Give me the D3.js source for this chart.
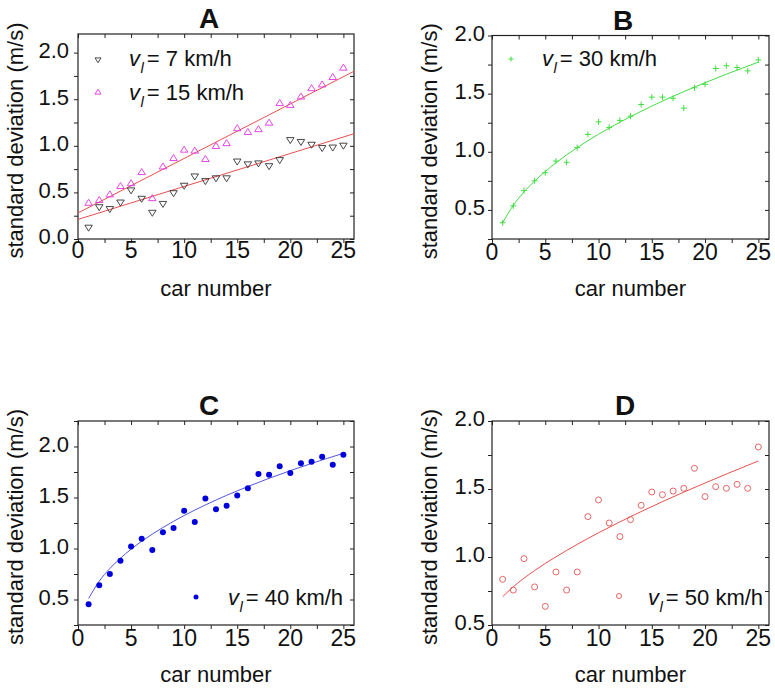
<!DOCTYPE html>
<html><head><meta charset="utf-8">
<script src="https://cdn.jsdelivr.net/npm/d3@7"></script>
<style>
body{margin:0;background:#fff;}
text{font-family:"Liberation Sans",Arial,sans-serif;fill:#111;}
</style>
</head><body>
<svg id="chart" width="775" height="689"></svg>
<script>
// ---------- data ----------
const carNumbers = [1,2,3,4,5,6,7,8,9,10,11,12,13,14,15,16,17,18,19,20,21,22,23,24,25];
const xTickValues = [0,5,10,15,20,25];

// Panel A
const sdA7  = [0.12,0.34,0.32,0.39,0.52,0.43,0.28,0.375,0.49,0.57,0.67,0.62,0.65,0.65,0.83,0.80,0.81,0.78,0.845,1.06,1.04,1.01,0.975,0.98,1.00];
const sdA15 = [0.39,0.42,0.48,0.57,0.60,0.72,0.44,0.78,0.87,0.96,0.95,0.86,1.00,1.03,1.19,1.15,1.18,1.25,1.46,1.44,1.53,1.62,1.66,1.74,1.84];
const fitAX   = [0,26];
const fitA7Y  = [0.21,1.13];
const fitA15Y = [0.28,1.80];
const yTicksA = [0,0.5,1.0,1.5,2.0];

// Panel B
const sdB30 = [0.39,0.535,0.666,0.75,0.82,0.92,0.91,1.036,1.15,1.257,1.21,1.27,1.306,1.406,1.47,1.47,1.46,1.375,1.55,1.58,1.716,1.74,1.725,1.696,1.79];
const fitX  = [1,2,3,4,5,6,8,10,12,14,16,18,20,22,25];
const fitBY = [0.39,0.540,0.654,0.748,0.831,0.905,1.036,1.151,1.254,1.348,1.436,1.517,1.594,1.667,1.771];
const yTicksB = [0.5,1.0,1.5,2.0];

// Panel C
const sdC40 = [0.454,0.64,0.75,0.88,1.02,1.095,0.986,1.16,1.20,1.37,1.26,1.49,1.386,1.42,1.52,1.59,1.73,1.724,1.806,1.74,1.836,1.85,1.90,1.82,1.92];
const fitCY = [0.51,0.679,0.804,0.905,0.993,1.071,1.206,1.323,1.427,1.521,1.607,1.688,1.763,1.834,1.933];
const yTicksC = [0.5,1.0,1.5,2.0];

// Panel D
const sdD50 = [0.836,0.757,0.988,0.78,0.637,0.89,0.757,0.89,1.297,1.42,1.25,1.15,1.275,1.38,1.478,1.458,1.485,1.505,1.652,1.444,1.517,1.505,1.534,1.505,1.809];
const fitDY = [0.708,0.781,0.844,0.900,0.953,1.001,1.093,1.178,1.258,1.334,1.407,1.477,1.544,1.610,1.706];
const yTicksD = [0.5,1.0,1.5,2.0];

const titles = ["A","B","C","D"];
const xLabel = "car number";
const yLabel = "standard deviation (m/s)";

// ---------- drawing ----------
const svg = d3.select("#chart");
const FSX = 23, FSL = 22;
const frameCol = "#222";

function panel(cfg){
  const g = svg.append("g");
  const x = d3.scaleLinear().domain([0,26]).range([cfg.l,cfg.r]);
  const y = d3.scaleLinear().domain(cfg.yDom).range([cfg.b,cfg.t]);
  const xMinor = d3.range(0,26,2.5);
  const yMinor = d3.range(Math.ceil(cfg.yDom[0]/0.25-1e-9)*0.25, cfg.yDom[1]+1e-9, 0.25);

  // frame
  g.append("rect").attr("x",cfg.l).attr("y",cfg.t).attr("width",cfg.r-cfg.l).attr("height",cfg.b-cfg.t)
    .attr("fill","none").attr("stroke",frameCol).attr("stroke-width",1.2);

  const tickStyle = sel => { sel.select(".domain").remove(); sel.selectAll("line").attr("stroke",frameCol).attr("stroke-width",1); sel.selectAll("text").remove(); };
  g.append("g").attr("transform",`translate(0,${cfg.b})`).call(d3.axisBottom(x).tickValues(xMinor).tickSize(4)).call(tickStyle);
  g.append("g").attr("transform",`translate(0,${cfg.t})`).call(d3.axisTop(x).tickValues(xMinor).tickSize(-4)).call(tickStyle);
  g.append("g").attr("transform",`translate(${cfg.l},0)`).call(d3.axisLeft(y).tickValues(yMinor).tickSize(4)).call(tickStyle);
  g.append("g").attr("transform",`translate(${cfg.r},0)`).call(d3.axisRight(y).tickValues(yMinor).tickSize(-4)).call(tickStyle);

  // tick labels
  g.selectAll(".xl").data(xTickValues).enter().append("text")
    .attr("x",d=>x(d)).attr("y",cfg.b+cfg.xlOff).attr("text-anchor","middle").attr("font-size",FSX).text(d=>d);
  g.selectAll(".yl").data(cfg.yTicks).enter().append("text")
    .attr("x",cfg.l-cfg.ylGap).attr("y",d=>y(d)-2.5).attr("dy","0.36em").attr("text-anchor","end").attr("font-size",FSX-1).text(d=>d.toFixed(1));

  // axis titles
  g.append("text").attr("x",(cfg.l+cfg.r)/2).attr("y",cfg.b+cfg.xtOff).attr("text-anchor","middle").attr("font-size",FSL).text(xLabel);
  g.append("text").attr("transform",`translate(${cfg.ytX},${(cfg.t+cfg.b)/2+4}) rotate(-90)`).attr("text-anchor","middle").attr("font-size",FSL).text(yLabel);
  // panel title
  g.append("text").attr("x",cfg.titleX).attr("y",cfg.t-6).attr("text-anchor","middle").attr("font-size",28).attr("font-weight","bold").text(cfg.title);

  const line = d3.line().x(d=>x(d[0])).y(d=>y(d[1]));
  cfg.fits.forEach(f=>{
    g.append("path").datum(d3.zip(f.xs,f.ys)).attr("d",line.curve(f.curve||d3.curveLinear))
      .attr("fill","none").attr("stroke",f.color).attr("stroke-width",1);
  });

  cfg.series.forEach(s=>{
    const pts = d3.zip(carNumbers,s.values);
    drawMarkers(g, pts.map(p=>[x(p[0]),y(p[1])]), s.marker, s.color, s.size);
  });

  // legend
  cfg.legend.forEach(L=>{
    drawMarkers(g, [[L.mx,L.my]], L.marker, L.color, L.size);
    const t = g.append("text").attr("x",L.tx).attr("y",L.ty).attr("font-size",FSL);
    t.append("tspan").attr("font-style","italic").text("v");
    t.append("tspan").attr("font-style","italic").attr("font-size",15).attr("dx",0.5).attr("dy",7).text("l");
    t.append("tspan").attr("dy",-7).attr("dx",3).text("= " + L.label);
  });
}

function drawMarkers(g, pts, marker, color, sz){
  const h = sz/2;
  const sel = g.append("g").selectAll("x").data(pts).enter();
  if(marker==="tdown"){
    sel.append("path").attr("d",p=>`M${p[0]-h},${p[1]-h*0.7}L${p[0]+h},${p[1]-h*0.7}L${p[0]},${p[1]+h*0.9}Z`)
      .attr("fill","none").attr("stroke",color).attr("stroke-width",0.9);
  } else if(marker==="tup"){
    sel.append("path").attr("d",p=>`M${p[0]-h},${p[1]+h*0.7}L${p[0]+h},${p[1]+h*0.7}L${p[0]},${p[1]-h*0.9}Z`)
      .attr("fill","none").attr("stroke",color).attr("stroke-width",0.9);
  } else if(marker==="plus"){
    sel.append("path").attr("d",p=>`M${p[0]-h},${p[1]}H${p[0]+h}M${p[0]},${p[1]-h}V${p[1]+h}`)
      .attr("fill","none").attr("stroke",color).attr("stroke-width",1);
  } else if(marker==="dot"){
    sel.append("circle").attr("cx",p=>p[0]).attr("cy",p=>p[1]).attr("r",h).attr("fill",color);
  } else if(marker==="circle"){
    sel.append("circle").attr("cx",p=>p[0]).attr("cy",p=>p[1]).attr("r",h).attr("fill","none").attr("stroke",color).attr("stroke-width",0.9);
  }
}

const blackTri = "#333", magenta = "#e033e0", green = "#44dd44", blue = "#0000dd", blueLine = "#5555dd", red = "#e05555", redLine = "#e85050";

panel({title:titles[0], l:78, r:354, t:34, b:239, yDom:[0,2.2], yTicks:yTicksA, ylGap:9, xlOff:19, xtOff:57, ytX:23, titleX:209,
  fits:[{xs:fitAX, ys:fitA7Y, color:redLine},{xs:fitAX, ys:fitA15Y, color:redLine}],
  series:[{values:sdA7, marker:"tdown", color:blackTri, size:7.5},{values:sdA15, marker:"tup", color:magenta, size:7.5}],
  legend:[{mx:98,my:60,marker:"tdown",color:blackTri,size:6,tx:129,ty:66,label:"7 km/h"},
          {mx:98,my:92,marker:"tup",color:magenta,size:6,tx:129,ty:100,label:"15 km/h"}]});

panel({title:titles[1], l:492, r:769, t:35.5, b:239, yDom:[0.25,2.0], yTicks:yTicksB, ylGap:7, xlOff:21, xtOff:57, ytX:437, titleX:623,
  fits:[{xs:fitX, ys:fitBY, color:green, curve:d3.curveMonotoneX}],
  series:[{values:sdB30, marker:"plus", color:green, size:6}],
  legend:[{mx:511,my:59,marker:"plus",color:green,size:5,tx:542,ty:66,label:"30 km/h"}]});

panel({title:titles[2], l:78, r:354, t:421, b:625, yDom:[0.25,2.25], yTicks:yTicksC, ylGap:9, xlOff:21, xtOff:57, ytX:23, titleX:209,
  fits:[{xs:fitX, ys:fitCY, color:blueLine, curve:d3.curveMonotoneX}],
  series:[{values:sdC40, marker:"dot", color:blue, size:6}],
  legend:[{mx:196,my:597,marker:"dot",color:blue,size:5,tx:228,ty:605,label:"40 km/h"}]});

panel({title:titles[3], l:492, r:769, t:421, b:625, yDom:[0.5,2.0], yTicks:yTicksD, ylGap:7, xlOff:21, xtOff:57, ytX:437, titleX:625,
  fits:[{xs:fitX, ys:fitDY, color:redLine, curve:d3.curveMonotoneX}],
  series:[{values:sdD50, marker:"circle", color:red, size:6}],
  legend:[{mx:619,my:596,marker:"circle",color:red,size:5,tx:648,ty:605,label:"50 km/h"}]});
</script>
</body></html>
